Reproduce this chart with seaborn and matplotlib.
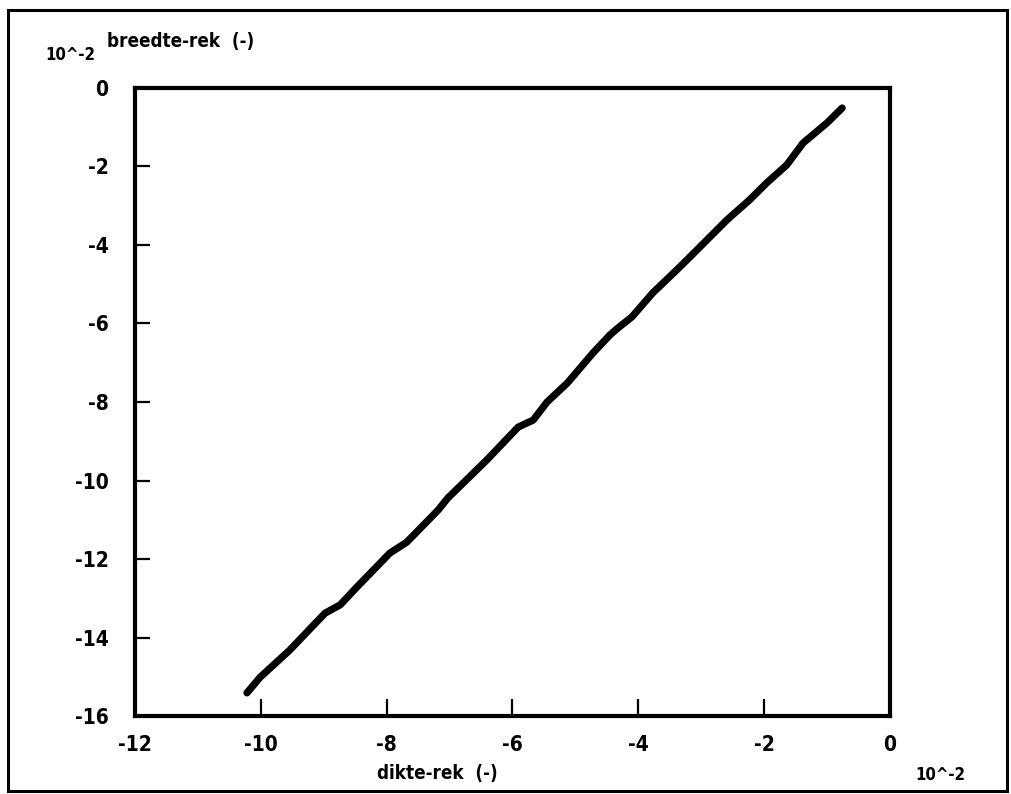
import matplotlib
matplotlib.use("Agg")
import matplotlib.pyplot as plt
import seaborn as sns
import pandas as pd
from matplotlib.patches import Rectangle

# dikte-rek (x) versus breedte-rek (y), both in units of 10^-2
dikte_rek = [-10.22, -10.01, -9.54, -8.98, -8.74, -8.47, -7.95, -7.68, -7.18,
             -7.03, -6.41, -5.91, -5.67, -5.45, -5.13, -4.72, -4.45, -4.32,
             -4.10, -3.77, -3.34, -3.02, -2.59, -2.23, -1.96, -1.64, -1.38,
             -1.00, -0.76]
breedte_rek = [-15.41, -15.01, -14.32, -13.38, -13.17, -12.71, -11.85, -11.57,
               -10.75, -10.45, -9.48, -8.64, -8.46, -8.00, -7.52, -6.75, -6.29,
               -6.11, -5.83, -5.22, -4.56, -4.05, -3.36, -2.85, -2.42, -1.96,
               -1.40, -0.89, -0.51]

x_ticks = [-12, -10, -8, -6, -4, -2, 0]
y_ticks = [0, -2, -4, -6, -8, -10, -12, -14, -16]

sns.set_theme(style="white")
font = dict(family="DejaVu Sans", weight="bold", stretch="condensed",
            color="black")
plt.rcParams["font.family"] = ["DejaVu Sans"]

df = pd.DataFrame({"dikte": dikte_rek, "breedte": breedte_rek})

fig = plt.figure(figsize=(10.12, 7.94), dpi=100)
ax = fig.add_axes([0.1334, 0.0982, 0.7460, 0.7910])

sns.lineplot(data=df, x="dikte", y="breedte", ax=ax, color="black",
             linewidth=5.2, sort=False, estimator=None,
             solid_capstyle="round", solid_joinstyle="round")

ax.set_xlim(-12, 0)
ax.set_ylim(-16, 0)
ax.set_xticks(x_ticks)
ax.set_yticks(y_ticks)
ax.set_xticklabels([str(v) for v in x_ticks], fontsize=15, **font)
ax.set_yticklabels([str(v) for v in y_ticks], fontsize=15, **font)
ax.tick_params(axis="x", bottom=True, direction="in", length=12, width=1.6,
               color="black", pad=14, labelcolor="black")
ax.tick_params(axis="y", left=True, direction="in", length=11, width=1.6,
               color="black", pad=19, labelcolor="black")
ax.set_xlabel("")
ax.set_ylabel("")
for s in ax.spines.values():
    s.set_visible(True)
    s.set_color("black")
    s.set_linewidth(3.0)
ax.grid(False)

# axis titles and scale factors
fig.text(107 / 1012, 1 - 41 / 794, "breedte-rek  (-)", fontsize=13.5,
         ha="left", va="center", **font)
fig.text(45 / 1012, 1 - 55 / 794, "10^-2", fontsize=12,
         ha="left", va="center", **font)
fig.text(377 / 1012, 1 - 774 / 794, "dikte-rek  (-)", fontsize=13.5,
         ha="left", va="center", **font)
fig.text(915 / 1012, 1 - 775 / 794, "10^-2", fontsize=12,
         ha="left", va="center", **font)

# outer frame around the whole plot
fig.patches.append(Rectangle((8 / 1012, 1 - 791 / 794), 999 / 1012, 781 / 794,
                             transform=fig.transFigure, fill=False,
                             edgecolor="black", linewidth=2.2))

fig.savefig("out.png", dpi=100, facecolor="white")
